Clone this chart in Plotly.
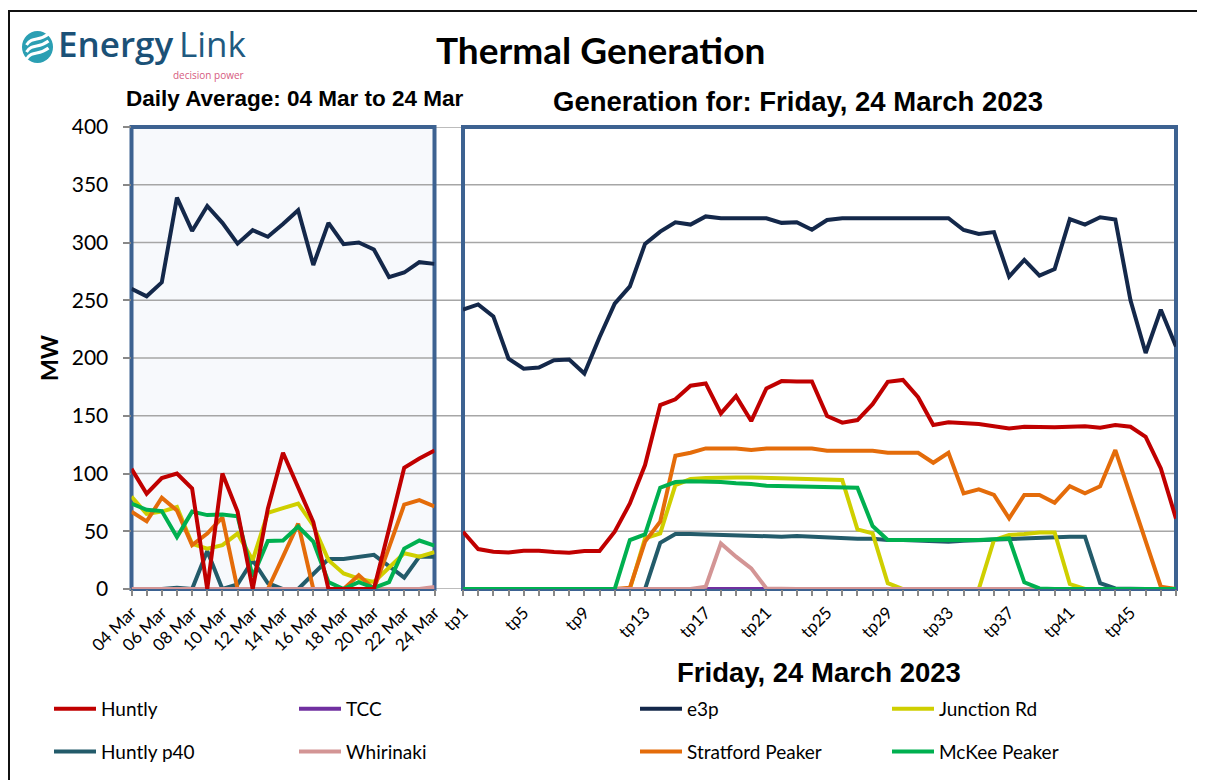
import plotly.graph_objects as go

# The page adds an 8px body margin, so the figure is placed 8px in from the window edge.
OFF = 8
W, H = 1205 - OFF, 780 - OFF
def px(x): return (x - OFF) / W
def py(y): return 1 - (y - OFF) / H

# ---------------- data ----------------
days = ["04 Mar", "05 Mar", "06 Mar", "07 Mar", "08 Mar", "09 Mar", "10 Mar", "11 Mar",
        "12 Mar", "13 Mar", "14 Mar", "15 Mar", "16 Mar", "17 Mar", "18 Mar", "19 Mar",
        "20 Mar", "21 Mar", "22 Mar", "23 Mar", "24 Mar"]
day_huntly = [104, 82.5, 96, 100, 87, 0, 100, 67, 0, 69.5, 118, 87, 58, 0, 0, 0, 0, 52, 105, 113, 120]
day_tcc = [0, 0, 0, 0, 0, 0, 0, 0, 0, 0, 0, 0, 0, 0, 0, 0, 0, 0, 0, 0, 0]
day_e3p = [260, 253.4, 265.5, 338.8, 310, 331.6, 317, 299, 310.7, 305, 316, 328, 280.5, 317,
           298.6, 300, 294, 270, 274, 283, 281.5]
day_junction = [80, 65, 67, 71, 39, 35, 38, 48, 25, 66, 70, 74, 55, 25, 13.5, 9, 6, 19, 31, 28, 32]
day_p40 = [0, 0, 0, 1, 0, 33, 0, 4, 25, 5, 0, 0, 13.6, 26, 26, 28, 29.6, 19.8, 9.8, 28, 28]
day_whirinaki = [0, 0, 0, 0, 0, 0, 0, 0, 0, 0, 0, 0, 0, 0, 0, 0, 0, 0, 0, 0, 1.8]
day_stratford = [67, 58.6, 79, 68, 38, 48, 62, 0, 0, 0, 28, 56.6, 0, 0, 0, 12, 0, 36, 73, 77, 71.5]
day_mckee = [74, 68.6, 67.5, 45, 67, 64, 64.5, 63, 10.6, 41.6, 42, 54, 41, 6, 0, 6, 1, 6, 35, 42, 37.6]

tps = list(range(1, 49))
tp_labels = ["tp1", "tp5", "tp9", "tp13", "tp17", "tp21", "tp25", "tp29", "tp33", "tp37", "tp41", "tp45"]
tp_label_pos = [1, 5, 9, 13, 17, 21, 25, 29, 33, 37, 41, 45]

tp_huntly = [49.6, 34.6, 32.3, 31.7, 33.2, 33.2, 32, 31.4, 32.9, 32.9,
             49.6, 74, 107.3, 159.3, 164.2, 176, 178, 152, 167, 145.4,
             173.7, 180, 179.7, 179.7, 149.7, 144, 146.3, 160, 179.4, 181,
             166, 142, 144.3, 143.4, 142.8, 141, 139, 140.5, 140, 140,
             140.5, 141, 139.6, 142, 140.5, 131.8, 104.4, 61]
tp_tcc = [0, 0, 0, 0, 0, 0, 0, 0, 0, 0, 0, 0, 0, 0, 0, 0, 0, 0, 0, 0, 0, 0, 0, 0,
          0, 0, 0, 0, 0, 0, 0, 0, 0, 0, 0, 0, 0, 0, 0, 0, 0, 0, 0, 0, 0, 0, 0, 0]
tp_e3p = [241.8, 246.4, 236, 199.4, 190.8, 191.7, 198, 198.6, 186.5, 218,
          247, 262, 298.8, 309.4, 317.5, 315.5, 322.6, 321, 321, 321,
          321, 317, 317.5, 311, 319.5, 321, 321, 321, 321, 321,
          321, 321, 321, 310.8, 307.4, 309, 270.5, 285, 271.4, 277,
          320.3, 315.5, 321.8, 319.8, 250, 204.3, 241.8, 210]
tp_junction = [0, 0, 0, 0, 0, 0, 0, 0, 0, 0, 0, 0,
               43.8, 48.2, 90, 95.2, 96, 96.6, 96.6, 96.6, 96.3, 96, 95.7, 95, 94.3, 94.3,
               51.6, 48.2, 5,
               0, 0, 0, 0, 0, 0,
               42.4, 46.7, 47.6, 49, 49, 4.3,
               0, 0, 0, 0, 0, 0, 0]
tp_p40 = [0, 0, 0, 0, 0, 0, 0, 0, 0, 0, 0, 0, 0,
          40, 47.6, 47.6, 47.3, 46.7, 46, 46, 46, 45.3, 45.9, 45.3, 44.4, 44.4, 43.6, 43.6,
          42.4, 42.4, 41.8, 41, 41, 41.8, 42.4, 43, 43.3, 43.8, 44.4, 45.3, 45.3, 45.3,
          5, 0.5, 0, 0, 0, 0]
tp_whirinaki = [0, 0, 0, 0, 0, 0, 0, 0, 0, 0, 0, 0, 0, 0, 0, 0,
                2, 39.5, 28, 17.9, 0.5,
                0, 0, 0, 0, 0, 0, 0, 0, 0, 0, 0, 0, 0, 0, 0, 0, 0, 0, 0, 0, 0, 0, 0, 0, 0, 0, 0]
tp_stratford = [0, 0, 0, 0, 0, 0, 0, 0, 0, 0, 0,
                1, 41, 58.3, 115.4, 118, 121.7, 121.7, 121.7, 120.3, 121.7, 121.7, 121.7, 121.7,
                119.7, 119.7, 119.7, 119.7, 118, 118, 118, 109.3, 118, 82.8, 86.3, 81.4, 61.2,
                81.4, 81.4, 74.7, 89, 82.8, 89, 120.3, 80, 40, 2, 0]
tp_mckee = [0, 0, 0, 0, 0, 0, 0, 0, 0, 0, 0,
            42.4, 47.3, 87.7, 92.6, 93.2, 93.2, 92.6, 91.5, 90.9, 89.4, 89.1, 88.6, 88, 87.7,
            87.7, 87.7, 54.5, 42.4, 42.4, 42.4, 42, 42.4, 42.4, 42.4, 43, 43.8, 5.8, 0.5,
            0, 0, 0, 0, 0, 0, 0, 0, 0]

y_ticks = [0, 50, 100, 150, 200, 250, 300, 350, 400]

# name, colour, daily data, tp data, legend id, rank  (draw order = list order)
series = [
    ("TCC", "#7030A0", day_tcc, tp_tcc, "legend2", 1),
    ("Huntly p40", "#235B6A", day_p40, tp_p40, "legend", 2),
    ("Junction Rd", "#CFCF00", day_junction, tp_junction, "legend4", 1),
    ("Stratford Peaker", "#E46C0A", day_stratford, tp_stratford, "legend3", 2),
    ("Whirinaki", "#D39595", day_whirinaki, tp_whirinaki, "legend2", 2),
    ("McKee Peaker", "#00B050", day_mckee, tp_mckee, "legend4", 2),
    ("Huntly", "#C00000", day_huntly, tp_huntly, "legend", 1),
    ("e3p", "#14284A", day_e3p, tp_e3p, "legend3", 1),
]

LW = 4
fig = go.Figure()
day_idx = list(range(len(days)))
for name, col, dd, td, leg, rank in series:
    fig.add_trace(go.Scatter(x=day_idx, y=dd, mode="lines", name=name,
                             line=dict(color=col, width=LW), showlegend=False,
                             xaxis="x", yaxis="y", hoverinfo="skip"))
for name, col, dd, td, leg, rank in series:
    fig.add_trace(go.Scatter(x=tps, y=td, mode="lines", name=name,
                             line=dict(color=col, width=LW), legend=leg,
                             legendgroup=name, legendrank=rank,
                             xaxis="x2", yaxis="y2"))

ydom = [py(589), py(127)]
lx0, lx1 = 131.5, 434.5
rx0, rx1 = 463, 1176
tickfont = dict(family="Lato", size=17, color="#000")
fig.update_layout(
    width=W, height=H, margin=dict(l=0, r=0, t=0, b=0, autoexpand=False),
    paper_bgcolor="white", plot_bgcolor="rgba(0,0,0,0)",
    xaxis=dict(domain=[px(lx0), px(lx1)], range=[0, 20], tickmode="array",
               tickvals=day_idx[::2], ticktext=days[::2], tickangle=-45,
               ticks="outside", ticklen=6, tickcolor="#888", tickwidth=1.5,
               minor=dict(ticks="outside", ticklen=6, tickcolor="#888", dtick=1, tick0=0),
               showgrid=False, zeroline=False, showline=False, tickfont=tickfont, anchor="y",
               automargin=False),
    yaxis=dict(domain=ydom, range=[0, 400], tickvals=y_ticks, ticks="outside", ticklen=8,
               tickcolor="#888", tickwidth=1.5, showgrid=False, zeroline=False,
               showline=False, tickfont=dict(family="Lato", size=21, color="#000"), anchor="x",
               ticklabelstandoff=10, automargin=False),
    xaxis2=dict(domain=[px(rx0), px(rx1)], range=[1, 48], tickmode="array",
                tickvals=tp_label_pos, ticktext=tp_labels, tickangle=-45,
                ticks="outside", ticklen=6, tickcolor="#888", tickwidth=1.5,
                minor=dict(ticks="outside", ticklen=6, tickcolor="#888", dtick=1, tick0=1),
                showgrid=False, zeroline=False, showline=False, tickfont=tickfont, anchor="y2",
                automargin=False),
    yaxis2=dict(domain=ydom, range=[0, 400], showticklabels=False, ticks="",
                showgrid=False, zeroline=False, showline=False, anchor="x2", automargin=False),
    showlegend=True,
)

legfont = dict(family="Lato", size=19, color="#000")
leg_common = dict(orientation="v", xanchor="left", yanchor="top", y=py(690),
                  bgcolor="rgba(0,0,0,0)", font=legfont, tracegroupgap=15,
                  traceorder="grouped", itemwidth=42)
fig.update_layout(
    legend=dict(x=px(49), **leg_common),
    legend2=dict(x=px(294), **leg_common),
    legend3=dict(x=px(635), **leg_common),
    legend4=dict(x=px(887), **leg_common),
)

shapes = []
# left panel background
shapes.append(dict(type="rect", xref="paper", yref="paper", x0=px(lx0), x1=px(lx1),
                   y0=ydom[0], y1=ydom[1], fillcolor="#F7F9FC", line=dict(width=0), layer="below"))
# gridlines across both panels
for v in y_ticks:
    shapes.append(dict(type="line", xref="paper", yref="y", x0=px(lx0), x1=px(rx1),
                       y0=v, y1=v, line=dict(color="#A6A6A6", width=1.5), layer="below"))
# panel borders
for a, b in ((lx0, lx1), (rx0, rx1)):
    shapes.append(dict(type="rect", xref="paper", yref="paper", x0=px(a), x1=px(b),
                       y0=ydom[0], y1=ydom[1], line=dict(color="#3D6291", width=4), layer="below"))
# outer frame
shapes.append(dict(type="rect", xref="paper", yref="paper", x0=px(9), x1=1.02,
                   y0=-0.02, y1=py(11), line=dict(color="#111", width=2)))
# logo circle
shapes.append(dict(type="circle", xref="paper", yref="paper", x0=px(22), x1=px(53),
                   y0=py(63), y1=py(31), fillcolor="#2B9FB3", line=dict(width=0)))
def wave(cx, cy, off):
    pts = [(cx - 11, cy + off + 5), (cx - 5, cy + off - 4), (cx + 1, cy + off + 2), (cx + 11, cy + off - 6)]
    p = "M {} {} C {} {}, {} {}, {} {}".format(*[v for pt in pts for v in (px(pt[0]), py(pt[1]))])
    return dict(type="path", xref="paper", yref="paper", path=p,
                line=dict(color="white", width=3))
for off in (-7, 0, 7):
    shapes.append(wave(37.5, 47, off))
fig.update_layout(shapes=shapes)

ann = []
def add_text(text, x, y, size, family="Liberation Sans", bold=True, xanchor="center",
             color="#000", angle=0, yanchor="middle", weight=None):
    f = dict(family=family, size=size, color=color)
    if weight is not None:
        f["weight"] = weight
    ann.append(dict(text=("<b>%s</b>" % text) if bold else text, x=px(x), y=py(y),
                    xref="paper", yref="paper", showarrow=False, xanchor=xanchor,
                    yanchor=yanchor, textangle=angle, font=f))
add_text("Thermal Generation", 600, 50, 37, family="Lato")
add_text("Daily Average: 04 Mar to 24 Mar", 124, 99, 22.5, xanchor="left")
add_text("Generation for: Friday, 24 March 2023", 798, 102, 27.5)
add_text("Friday, 24 March 2023", 819, 672, 27.5)
add_text("MW", 49, 358, 23, family="Lato", angle=-90)
add_text("Energy", 56, 44, 35, family="Open Sans", bold=False, xanchor="left",
         color="#1B5177", weight=600)
add_text("Link", 177, 44, 35, family="Open Sans", bold=False, xanchor="left",
         color="#1F5A80", weight=400)
add_text("decision power", 246, 66, 10, family="Open Sans", bold=False, xanchor="right",
         color="#D65A80", yanchor="top")
fig.update_layout(annotations=ann)

fig.write_html("out.html")
